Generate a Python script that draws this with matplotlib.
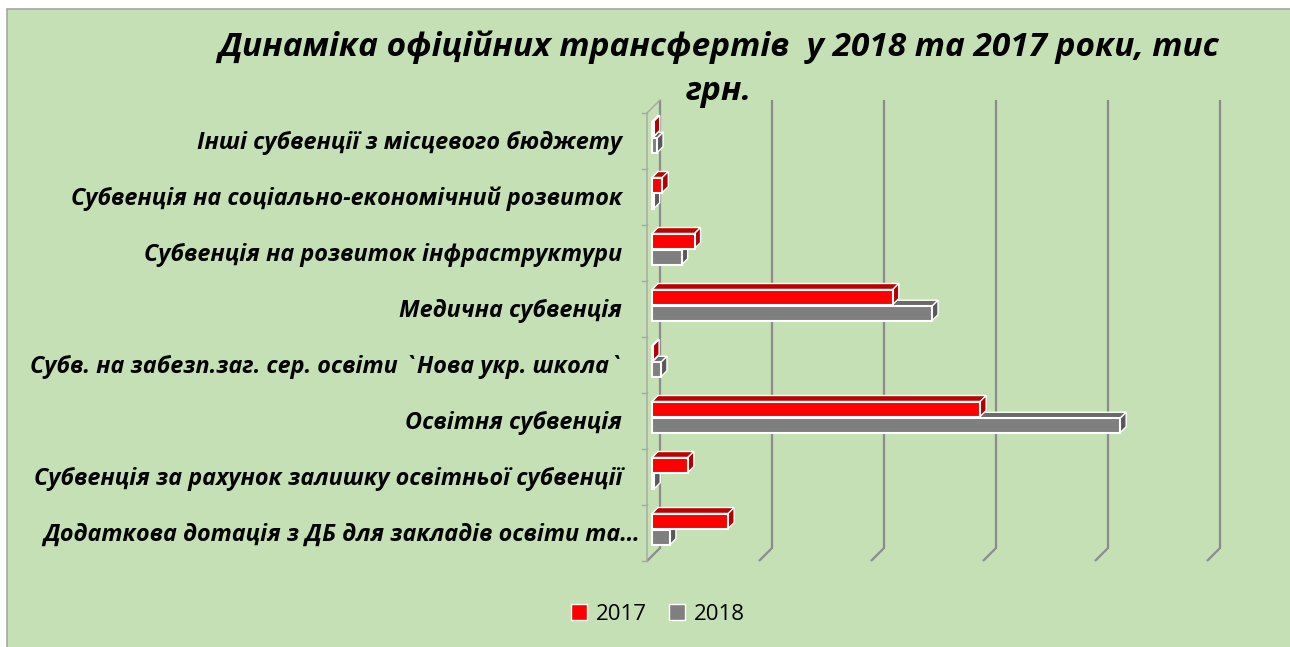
import matplotlib
matplotlib.use('Agg')
import matplotlib.pyplot as plt
from matplotlib.patches import Rectangle, Polygon, Patch

# categories top -> bottom, values in thousand UAH
categories = [
    'Інші субвенції з місцевого бюджету',
    'Субвенція на соціально-економічний розвиток',
    'Субвенція на розвиток інфраструктури',
    'Медична субвенція',
    'Субв. на забезп.заг. сер. освіти `Нова укр. школа`',
    'Освітня субвенція',
    'Субвенція за рахунок залишку освітньої субвенції',
    'Додаткова дотація з ДБ для закладів освіти та…',
]
v2017 = [150, 920, 3800, 21500, 100, 29300, 3200, 6800]
v2018 = [450, 150, 2650, 25000, 800, 41800, 200, 1600]
years = ['2017', '2018']

title = 'Динаміка офіційних трансфертів  у 2018 та 2017 роки, тис\nгрн.'

plt.rcParams['font.family'] = ['Open Sans', 'DejaVu Sans']

W, H = 1290, 647
fig = plt.figure(figsize=(W / 100, H / 100), dpi=100)
fig.patch.set_facecolor('white')

# green chart area with grey border
fig.patches.append(Rectangle((7 / W, -0.05), 1.1, 1 - 9 / H + 0.05, transform=fig.transFigure,
                             facecolor='#C5E0B4', edgecolor='#A6A6A6', linewidth=1.2, zorder=-5))

# axes placed in pixels
ax_l, ax_r, ax_t, ax_b = 630, 1240, 95, 566
ax = fig.add_axes([ax_l / W, 1 - ax_b / H, (ax_r - ax_l) / W, (ax_b - ax_t) / H])
ax.set_facecolor('none')

ux = 10000 / 112     # data units per pixel (x)
uy = 1 / 56          # category units per pixel (y)
x_front = 647        # pixel of value 0 on the front plane
y_first = 113        # pixel of the top category boundary

ax.set_xlim((ax_l - x_front) * ux, (ax_r - x_front) * ux)
ax.set_ylim(-0.5 + (ax_b - y_first) * uy, -0.5 + (ax_t - y_first) * uy)
for s in ax.spines.values():
    s.set_visible(False)
ax.set_xticks([])
ax.set_yticks([])

# 3d box: walls and gridlines
box = 13
y_top_back = -0.5 - box * uy
y_bot_back = 7.5 - box * uy
for k in range(6):
    xb = box * ux + k * 10000
    ax.plot([xb, xb, xb - box * ux], [y_top_back, y_bot_back, 7.5],
            color='#8C8C8C', lw=1.6, zorder=1, solid_capstyle='butt')
ax.plot([0, 0, box * ux], [7.5, -0.5, y_top_back], color='#A6A6A6', lw=1.0, zorder=1)
for b in range(9):
    ax.plot([-5 * ux, 0], [b - 0.5, b - 0.5], color='#A6A6A6', lw=1.0, zorder=1)

# bars with a fake depth
base = 5 * ux
dx, dy = 6 * ux, 6 * uy
ys = list(range(len(categories)))


def depth_faces(yc, h, v, top_c, side_c, z):
    top = yc - h / 2
    bot = yc + h / 2
    x1 = base + v
    ax.add_patch(Polygon([(base, top), (x1, top), (x1 + dx, top - dy), (base + dx, top - dy)],
                         closed=True, facecolor=top_c, edgecolor='white', lw=1.0, zorder=z))
    ax.add_patch(Polygon([(x1, top), (x1 + dx, top - dy), (x1 + dx, bot - dy), (x1, bot)],
                         closed=True, facecolor=side_c, edgecolor='white', lw=1.0, zorder=z))


h17, h18 = 15 * uy, 14.5 * uy
y17 = [y - 12 * uy for y in ys]
y18 = [y + 4.5 * uy for y in ys]

for yc, v in zip(y18, v2018):
    depth_faces(yc, h18, v, '#6A6A6A', '#595959', 2)
ax.barh(y18, v2018, left=base, height=h18, color='#7F7F7F', edgecolor='white', linewidth=1.5, zorder=3)
for yc, v in zip(y17, v2017):
    depth_faces(yc, h17, v, '#C00000', '#B00000', 4)
ax.barh(y17, v2017, left=base, height=h17, color='#FF0000', edgecolor='white', linewidth=1.5, zorder=5)

# category labels
for i, cat in enumerate(categories):
    xr = 622 if i < len(categories) - 1 else 640
    ax.text((xr - x_front) * ux, i + 2 * uy, cat, ha='right', va='center', fontsize=16.8,
            fontweight='bold', fontstyle='italic', clip_on=False)

fig.text(719 / W, 1 - 31 / H, title, ha='center', va='top', multialignment='center',
         fontsize=24, fontweight='bold', fontstyle='italic', linespacing=1.4)

handles = [Patch(facecolor='#FF0000', edgecolor='white'), Patch(facecolor='#7F7F7F', edgecolor='white')]
fig.legend(handles, years, loc='center', bbox_to_anchor=(658 / W, 1 - 614 / H), ncol=2,
           frameon=False, fontsize=16, handlelength=0.7, handleheight=0.7,
           handletextpad=0.4, columnspacing=1.0)

fig.savefig('out.png', dpi=100, facecolor=fig.get_facecolor())
